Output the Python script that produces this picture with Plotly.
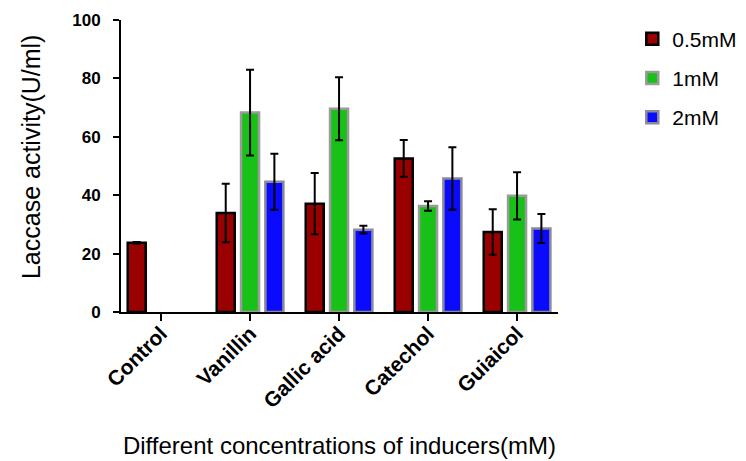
import plotly.graph_objects as go

categories = ["Control", "Vanillin", "Gallic acid", "Catechol", "Guiaicol"]
series_names = ["0.5mM", "1mM", "2mM"]
vals_05 = [23.7, 33.9, 37.1, 52.6, 27.4]
err_05 = [0.3, 10.0, 10.5, 6.3, 7.8]
vals_1 = [None, 68.3, 69.6, 36.3, 39.8]
err_1 = [0, 14.7, 10.8, 1.6, 8.1]
vals_2 = [None, 44.6, 28.2, 45.7, 28.6]
err_2 = [0, 9.6, 1.3, 10.7, 5.0]
y_ticks = [0, 20, 40, 60, 80, 100]

fills = ["#9b0000", "#17c117", "#0a0aff"]
outlines = ["#000000", "#9a9a9a", "#8a8a9a"]

fig = go.Figure()
for i, (name, v, e) in enumerate(zip(series_names, [vals_05, vals_1, vals_2], [err_05, err_1, err_2])):
    fig.add_trace(go.Bar(
        x=categories, y=v, name=name, legendgroup=name,
        marker=dict(color=fills[i], line=dict(color=outlines[i], width=2.5)),
        error_y=dict(type="data", array=e, visible=True, color="black", thickness=2, width=4),
    ))

font_family = "Liberation Sans, Arial, sans-serif"
fig.update_layout(
    width=738, height=453,
    margin=dict(l=113, r=188, t=12, b=149, autoexpand=False),
    barmode="group", bargap=0.18, bargroupgap=0.26,
    plot_bgcolor="white", paper_bgcolor="white",
    font=dict(family=font_family, color="black"),
    legend=dict(x=1.17, y=1.005, xanchor="left", yanchor="top",
                font=dict(size=21, color="black"), tracegroupgap=9,
                bgcolor="rgba(0,0,0,0)"),
    xaxis=dict(
        range=[-0.45, 4.46], showline=True, linecolor="black", linewidth=2,
        ticks="outside", ticklen=7, tickwidth=2, tickcolor="black", automargin=False,
        ticklabelstandoff=-8,
        tickangle=-45, tickfont=dict(size=21, family=font_family, weight="bold"),
        title=dict(text="Different concentrations of inducers(mM)", font=dict(size=24), standoff=26),
        showgrid=False, zeroline=False,
    ),
    yaxis=dict(
        range=[0, 100], tickvals=y_ticks, showline=True, linecolor="black", linewidth=2,
        ticks="outside", ticklen=6, tickwidth=2, tickcolor="black", automargin=False,
        ticklabelstandoff=9,
        tickfont=dict(size=17, family=font_family, weight="bold"),
        showgrid=False, zeroline=False,
    ),
    annotations=[dict(
        text="Laccase activity(U/ml)", textangle=-90, showarrow=False,
        xref="paper", yref="paper", x=-0.206, y=0.534, xanchor="center", yanchor="middle",
        font=dict(size=25, family=font_family, color="black"),
    )],
)

fig.write_html("out.html")
